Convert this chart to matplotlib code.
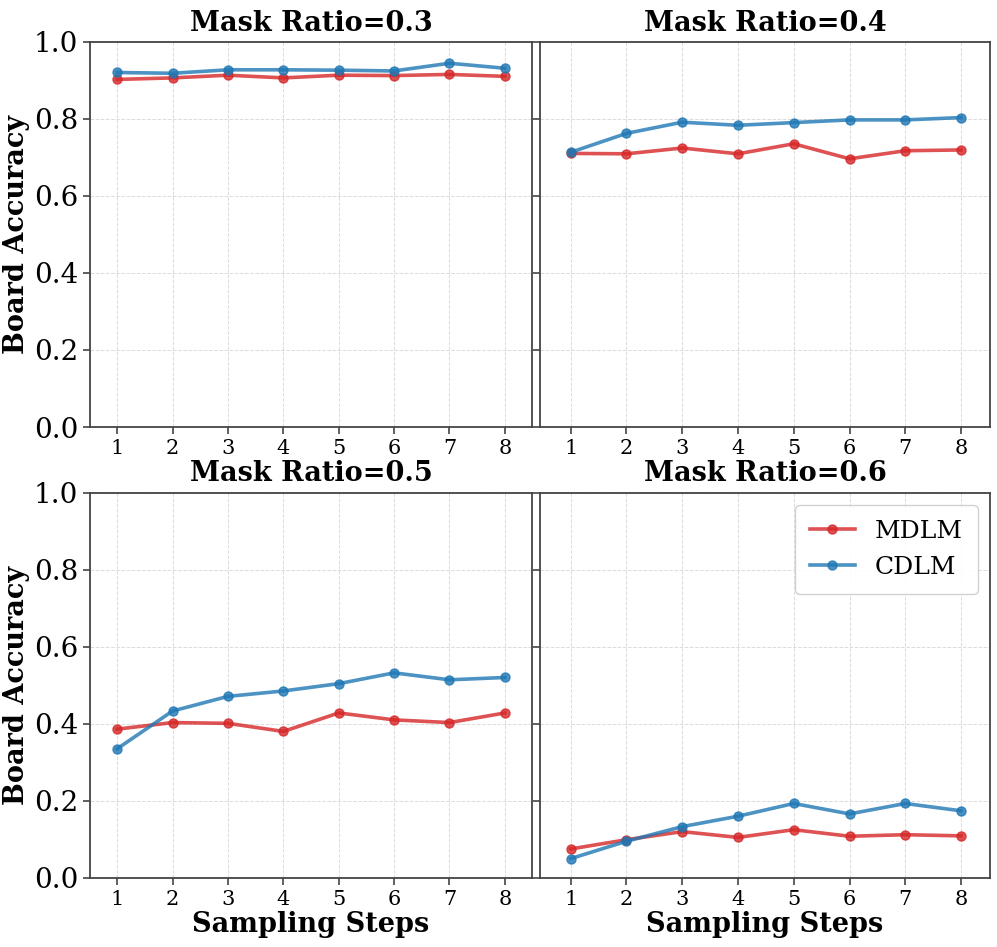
import numpy as np
import matplotlib
matplotlib.use('Agg')
import matplotlib.pyplot as plt

plt.rcParams['font.family'] = 'DejaVu Serif'

steps = [1, 2, 3, 4, 5, 6, 7, 8]
mask_ratios = [0.3, 0.4, 0.5, 0.6]

# board accuracy per mask ratio
mdlm = [
    [0.902, 0.906, 0.913, 0.906, 0.913, 0.912, 0.915, 0.910],
    [0.710, 0.709, 0.724, 0.709, 0.735, 0.696, 0.717, 0.719],
    [0.386, 0.403, 0.401, 0.380, 0.428, 0.410, 0.403, 0.428],
    [0.075, 0.099, 0.120, 0.105, 0.125, 0.108, 0.112, 0.109],
]
cdlm = [
    [0.920, 0.918, 0.927, 0.927, 0.926, 0.924, 0.944, 0.931],
    [0.713, 0.762, 0.791, 0.783, 0.790, 0.797, 0.797, 0.803],
    [0.335, 0.433, 0.471, 0.485, 0.504, 0.532, 0.514, 0.520],
    [0.050, 0.095, 0.133, 0.160, 0.193, 0.166, 0.193, 0.174],
]

red = '#d62728'
blue = '#1f77b4'

fig, axes = plt.subplots(2, 2, figsize=(9.97, 9.47), dpi=100, sharey=True,
                         gridspec_kw={'width_ratios': [442, 450]})
fig.subplots_adjust(left=0.0903, right=0.993, top=0.956, bottom=0.073, wspace=0.018, hspace=0.17)

for i, ax in enumerate(axes.flat):
    ax.plot(steps, mdlm[i], color=red, lw=2.6, marker='o', ms=6.5, alpha=0.8, label='MDLM')
    ax.plot(steps, cdlm[i], color=blue, lw=2.6, marker='o', ms=6.5, alpha=0.8, label='CDLM')
    ax.set_title('Mask Ratio={:}'.format(mask_ratios[i]), fontsize=19.5, fontweight='bold', pad=8)
    ax.set_ylim(0, 1.0)
    if i % 2 == 0:
        ax.set_xlim(0.51, 8.49)
    else:
        ax.set_xlim(0.45, 8.52)
    ax.set_xticks(steps)
    ax.set_yticks([0.0, 0.2, 0.4, 0.6, 0.8, 1.0])
    ax.grid(True, linestyle='--', color='#cccccc', alpha=0.7, lw=0.7)
    ax.tick_params(axis='x', labelsize=15, length=5, width=1.2, color='#444444')
    ax.tick_params(axis='y', labelsize=20, length=5, width=1.2, color='#444444')
    for s in ax.spines.values():
        s.set_color('#444444')
        s.set_linewidth(1.3)
    if i % 2 == 0:
        ax.set_ylabel('Board Accuracy', fontsize=19.5, fontweight='bold', labelpad=3)
    if i >= 2:
        ax.set_xlabel('Sampling Steps', fontsize=19.5, fontweight='bold', labelpad=2)

axes[1, 1].legend(loc='upper right', fontsize=18, framealpha=0.9, borderpad=0.6,
                  handlelength=1.8)

plt.savefig('out.png', dpi=100)
